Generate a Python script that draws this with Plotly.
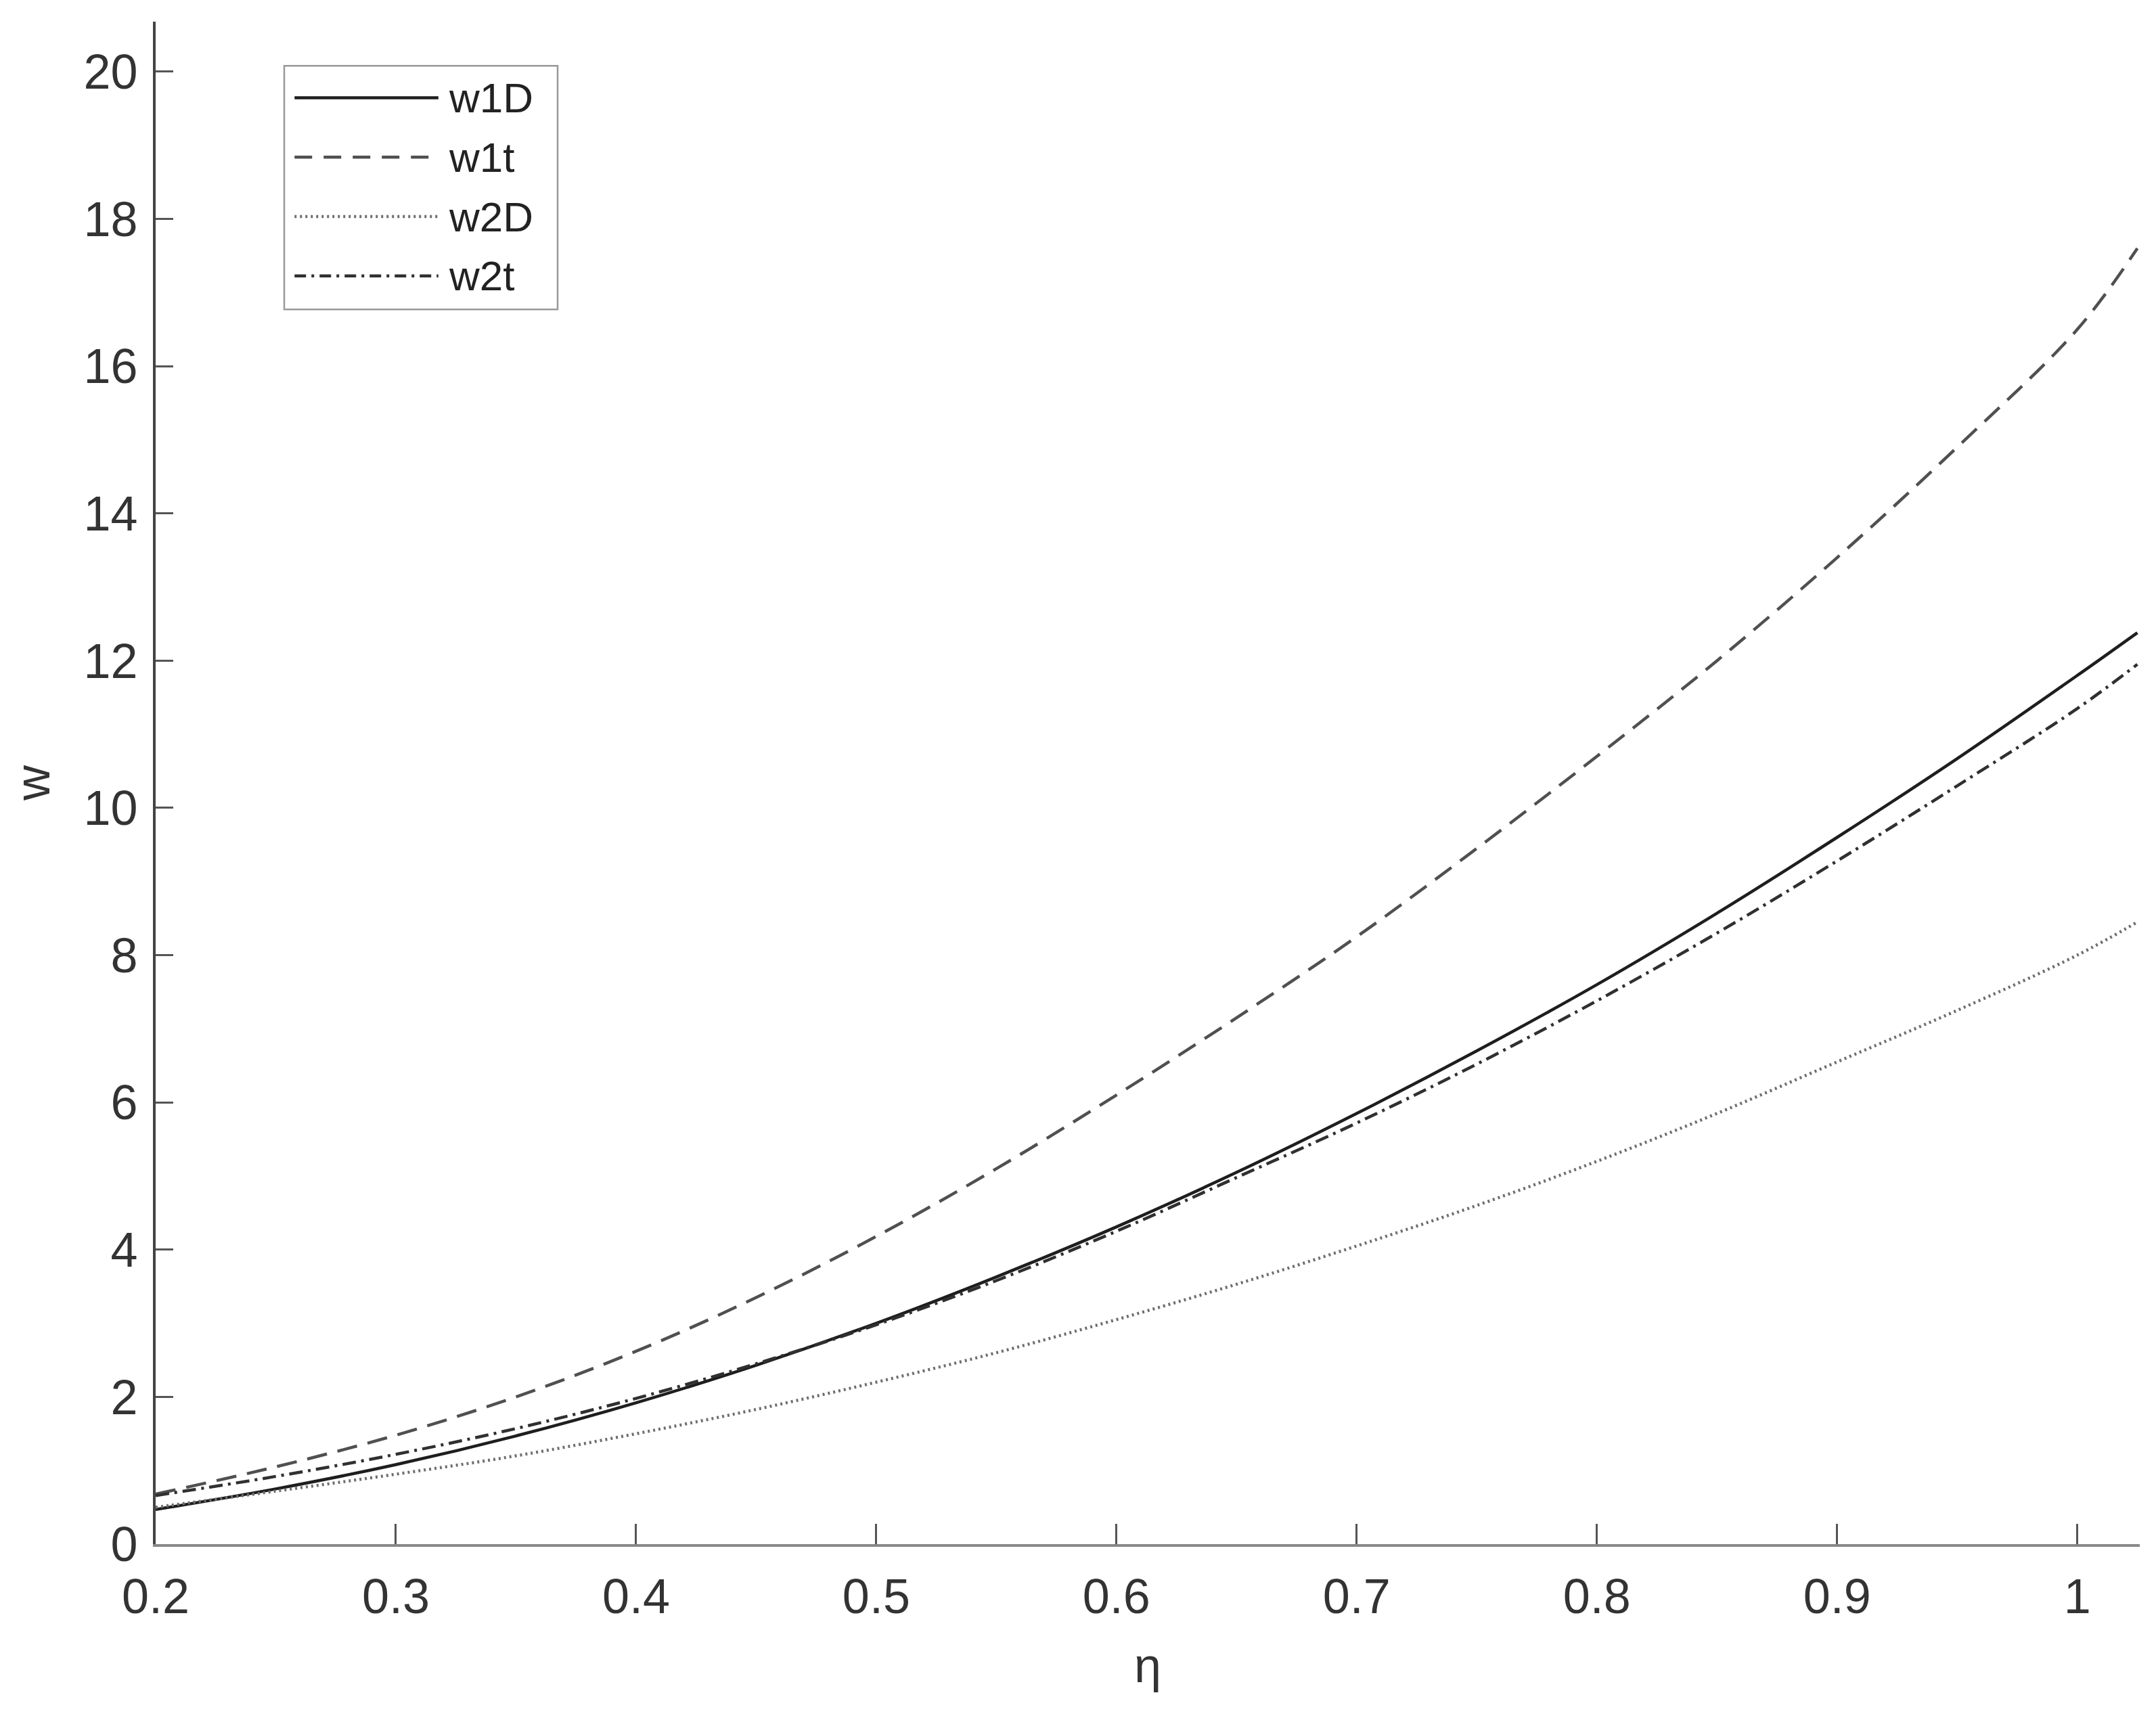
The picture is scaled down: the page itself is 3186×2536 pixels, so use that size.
import plotly.graph_objects as go

# eta values (x) and curves
eta = [0.2, 0.25, 0.3, 0.35, 0.4, 0.45, 0.5, 0.55, 0.6, 0.65, 0.7,
       0.75, 0.8, 0.85, 0.9, 0.95, 1.0, 1.025]
w1D = [0.47, 0.75, 1.08, 1.47, 1.92, 2.43, 3.0, 3.63, 4.31, 5.05, 5.85,
       6.7, 7.6, 8.57, 9.6, 10.67, 11.8, 12.38]
w1t = [0.68, 1.05, 1.48, 2.0, 2.62, 3.35, 4.18, 5.1, 6.1, 7.15, 8.25,
       9.45, 10.7, 12.0, 13.4, 14.9, 16.5, 17.6]
w2D = [0.5, 0.72, 0.95, 1.2, 1.5, 1.83, 2.2, 2.6, 3.05, 3.53, 4.05,
       4.6, 5.2, 5.85, 6.55, 7.25, 8.0, 8.45]
w2t = [0.66, 0.92, 1.22, 1.57, 1.98, 2.45, 2.98, 3.58, 4.25, 4.98, 5.72,
       6.52, 7.38, 8.3, 9.28, 10.3, 11.35, 11.95]

x_ticks = [0.2, 0.3, 0.4, 0.5, 0.6, 0.7, 0.8, 0.9, 1.0]
x_ticktext = ["0.2", "0.3", "0.4", "0.5", "0.6", "0.7", "0.8", "0.9", "1"]
y_ticks = [0, 2, 4, 6, 8, 10, 12, 14, 16, 18, 20]

# name, values, colour, dash on the curve, dash in the legend sample
series = [
    ("w1D", w1D, "#1e1e1e", "solid", "solid"),
    ("w1t", w1t, "#505050", "30px,16px", "26px,17px"),
    ("w2D", w2D, "#6e6e6e", "3px,5px", "3px,5px"),
    ("w2t", w2t, "#303030", "20px,8px,4px,8px", "17px,8px,4px,8px"),
]

FONT = "Liberation Sans, Arial, sans-serif"

fig = go.Figure()
for name, vals, color, dash, _ in series:
    fig.add_trace(go.Scatter(x=eta, y=vals, mode="lines", name=name,
                             line=dict(color=color, width=4.5, dash=dash, shape="spline"),
                             showlegend=False))

# hand-drawn legend box in MATLAB style (long line samples)
fig.add_shape(type="rect", xref="paper", yref="paper", x0=0.0648, x1=0.2026,
              y0=0.8110, y1=0.9710, line=dict(color="#999999", width=2.5),
              fillcolor="white", layer="above")
rows = [0.9500, 0.9110, 0.8720, 0.8330]
for (name, vals, color, dash, ldash), yy in zip(series, rows):
    fig.add_shape(type="line", xref="paper", yref="paper", x0=0.0700, x1=0.1425,
                  y0=yy, y1=yy, line=dict(color=color, width=4.5, dash=ldash),
                  layer="above")
    fig.add_annotation(x=0.1470, y=yy, xref="paper", yref="paper", text=name,
                       showarrow=False, xanchor="left", yanchor="middle",
                       font=dict(family=FONT, size=62, color="#222222"))

fig.update_layout(
    width=3186, height=2536,
    paper_bgcolor="white", plot_bgcolor="white",
    margin=dict(l=222, r=32, t=24, b=262),
    font=dict(family=FONT, size=72, color="#333333"),
    showlegend=False,
)
fig.update_xaxes(range=[0.2, 1.026], tickvals=x_ticks, ticktext=x_ticktext,
                 ticks="inside", ticklen=30, tickwidth=3, tickcolor="#555555",
                 showline=True, linecolor="#888888", linewidth=4,
                 showgrid=False, zeroline=False, ticklabelstandoff=12,
                 title=dict(text="η", font=dict(size=72), standoff=38))
fig.update_yaxes(range=[0, 20.68], tickvals=y_ticks,
                 ticks="inside", ticklen=26, tickwidth=3, tickcolor="#555555",
                 showline=True, linecolor="#444444", linewidth=4,
                 showgrid=False, zeroline=False, ticklabelstandoff=8,
                 title=dict(text="w", font=dict(size=72), standoff=52))

fig.write_html("out.html")
